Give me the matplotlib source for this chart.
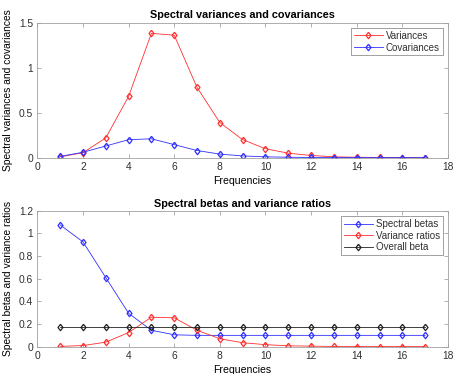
import numpy as np
import matplotlib.pyplot as plt

# ============== data
freqs = list(range(1, 18))
variances = [0.01, 0.055, 0.22, 0.68, 1.38, 1.36, 0.78, 0.39, 0.20, 0.10,
             0.05, 0.025, 0.01, 0.005, 0.003, 0.002, 0.001]
covariances = [0.015, 0.06, 0.13, 0.20, 0.21, 0.145, 0.08, 0.04, 0.02, 0.01,
               0.005, 0.003, 0.002, 0.001, 0.001, 0.0005, 0.0003]

spectral_betas = [1.075, 0.925, 0.61, 0.295, 0.145, 0.105, 0.10, 0.10, 0.10,
                  0.10, 0.10, 0.10, 0.10, 0.10, 0.10, 0.10, 0.10]
variance_ratios = [0.003, 0.01, 0.04, 0.125, 0.26, 0.255, 0.145, 0.07, 0.035,
                   0.018, 0.008, 0.005, 0.002, 0.001, 0.001, 0.001, 0.001]
overall_beta = [0.175] * 17

plt.rcParams['font.family'] = ['Liberation Sans', 'DejaVu Sans']

fig = plt.figure(figsize=(4.54, 3.74), dpi=100)
ax1 = fig.add_axes([0.0822, 0.5783, 0.9046, 0.3614])
ax2 = fig.add_axes([0.0822, 0.0730, 0.9046, 0.3636])

# matlab-like diamond (a bit wider than matplotlib's 'd')
diamond = [(0, 1), (0.78, 0), (0, -1), (-0.78, 0), (0, 1)]
mk = dict(marker=diamond, markersize=4.6, markerfacecolor='none', linewidth=0.6,
          markeredgewidth=0.9)

ax1.plot(freqs, variances, color='#ff3030', label='Variances', **mk)
ax1.plot(freqs, covariances, color='#3030ff', label='Covariances', **mk)
ax1.set_xlim(0, 18)
ax1.set_ylim(0, 1.5)
ax1.set_xticks(range(0, 19, 2))
ax1.set_yticks([0, 0.5, 1, 1.5])
ax1.set_yticklabels(['0', '0.5', '1', '1.5'])
ax1.set_title('Spectral variances and covariances', fontsize=7.8, fontweight='bold', pad=3)
ax1.set_xlabel('Frequencies', fontsize=7.6, labelpad=3)
ax1.set_ylabel('Spectral variances and covariances', fontsize=7.4, labelpad=4)

ax2.plot(freqs, spectral_betas, color='#3030ff', label='Spectral betas', **mk)
ax2.plot(freqs, variance_ratios, color='#ff3030', label='Variance ratios', **mk)
ax2.plot(freqs, overall_beta, color='#202020', label='Overall beta', **mk)
ax2.set_xlim(0, 18)
ax2.set_ylim(0, 1.2)
ax2.set_xticks(range(0, 19, 2))
ax2.set_yticks(np.arange(0, 1.21, 0.2))
ax2.set_yticklabels(['0', '0.2', '0.4', '0.6', '0.8', '1', '1.2'])
ax2.set_title('Spectral betas and variance ratios', fontsize=7.8, fontweight='bold', pad=3)
ax2.set_xlabel('Frequencies', fontsize=7.6, labelpad=3)
ax2.set_ylabel('Spectral betas and variance ratios', fontsize=7.4, labelpad=4)

for ax in (ax1, ax2):
    ax.tick_params(direction='in', top=True, right=True, labelsize=7.4,
                   length=3, width=0.5, color='#909090', labelcolor='#303030', pad=3)
    for s in ax.spines.values():
        s.set_linewidth(0.6)
        s.set_color('#a0a0a0')
    leg = ax.legend(loc='upper right', fontsize=7.0, fancybox=False,
                    framealpha=1, borderpad=0.3, labelspacing=0.18,
                    handlelength=3.0, handletextpad=0.3, borderaxespad=0.55)
    leg.get_frame().set_edgecolor('#909090')
    leg.get_frame().set_linewidth(0.6)
    for t in leg.get_texts():
        t.set_color('#303030')

fig.savefig('out.png', dpi=100)
